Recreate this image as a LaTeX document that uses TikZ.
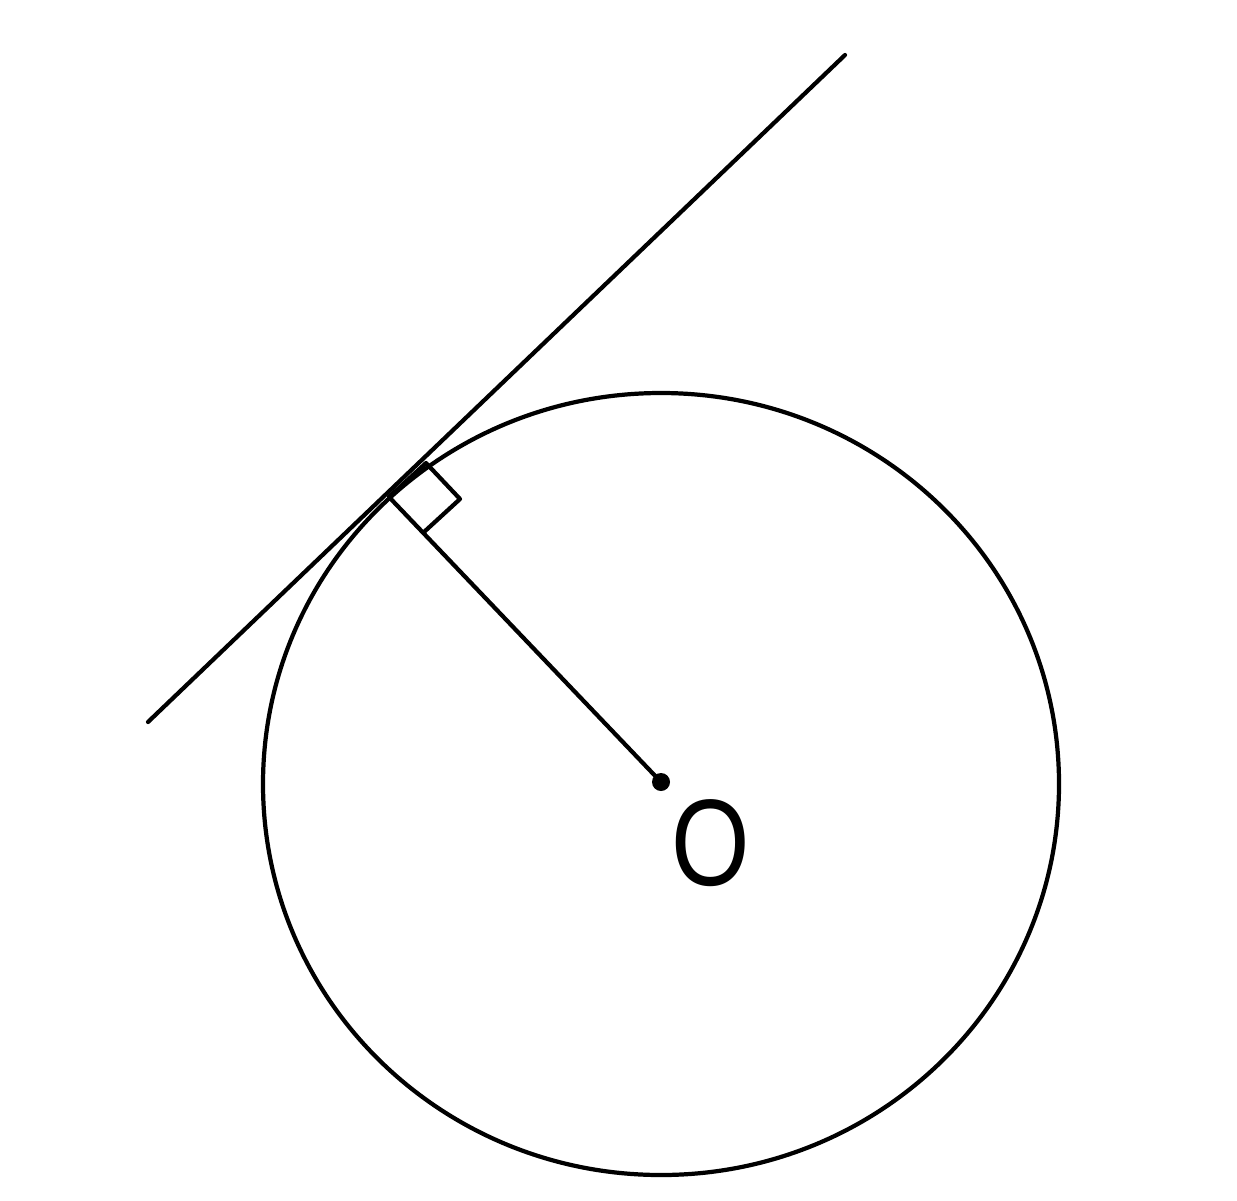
\documentclass[tikz,border=0pt]{standalone}
\usepackage{fontspec}
\setmainfont{Liberation Sans}
\begin{document}
\begin{tikzpicture}[x=0.01cm,y=-0.01cm,
  stroke/.style={line width=1.2pt,black,line cap=round,line join=round},
  lbl/.style={font=\fontsize{35}{40}\selectfont,inner sep=0pt,xscale=0.82}]
\useasboundingbox (0,0) rectangle (1237,1200);
% points
\coordinate (O) at (661,782);
\coordinate (L1) at (148,722);
\coordinate (L2) at (845,55);
\coordinate (T) at (389,497);
\coordinate (S1) at (426,463);
\coordinate (S2) at (460,499);
\coordinate (S3) at (424,532);
% circle
\draw[stroke] (661,784) ellipse [x radius=398, y radius=391];
% tangent line
\draw[stroke] (L1) -- (L2);
% radius
\draw[stroke] (O) -- (T);
% right-angle mark
\draw[stroke] (T) -- (S1) -- (S2) -- (S3);
% centre dot
\fill (O) circle[radius=9];
\node[lbl] (lab) at (711,843) {O};
\end{tikzpicture}
\end{document}
